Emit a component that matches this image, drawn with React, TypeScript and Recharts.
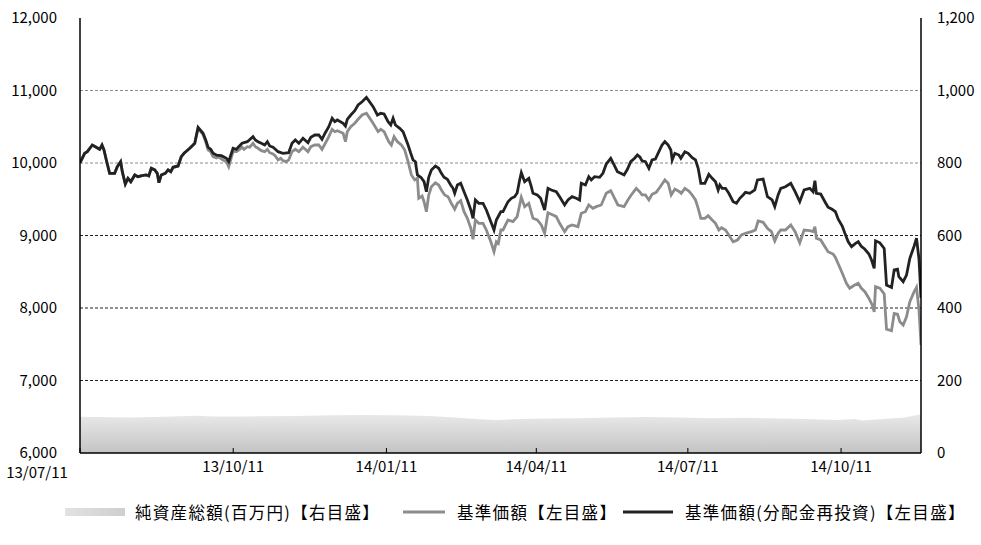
import React from 'react';
import { ComposedChart, Line, Area, XAxis, YAxis, ReferenceLine } from 'recharts';

// x values are days elapsed since 2013/07/11
const tickDays = [0, 92, 184, 274, 365, 457];
const tickLabels = ['13/07/11', '13/10/11', '14/01/11', '14/04/11', '14/07/11', '14/10/11'];
const leftTicks = [6000, 7000, 8000, 9000, 10000, 11000, 12000];
const rightTicks = [0, 200, 400, 600, 800, 1000, 1200];
const gridUpper = [10000, 11000];
const gridLower = [7000, 8000, 9000];

// 純資産総額(百万円)
const assetDays = [0, 10, 30, 50, 70, 80, 100, 130, 150, 170, 190, 210, 225, 240, 250, 260, 280, 300, 320, 340, 360, 380, 400, 420, 440, 455, 465, 470, 480, 495, 505];
const assetValues = [100, 99, 98, 100, 103, 101, 101, 102, 104, 105, 104, 102, 98, 93, 91, 93, 95, 96, 98, 99, 98, 96, 97, 95, 93, 91, 94, 90, 93, 98, 107];

// 基準価額(分配金再投資)
const reinvestDays = [0, 2.8, 4.4, 7.4, 9.2, 11.8, 13.2, 14.4, 15.8, 17.8, 20.8, 22.4, 24.4, 25.4, 27.2, 28.8, 30.5, 32.9, 34.8, 37.2, 39.8, 41.3, 42.8, 44.9, 46.4, 47.4, 48.8, 51.2, 52.9, 54.5, 55.9, 58.9, 60.8, 62.5, 65.9, 67.9, 68.9, 70.9, 73.9, 75.5, 76.9, 78.5, 79.9, 81.9, 84.9, 87.9, 89.3, 91.9, 93.9, 95.3, 97.3, 100.5, 103.9, 105.3, 106.9, 108.9, 110.9, 112.5, 113.9, 115.9, 117.3, 118.9, 121.9, 125.3, 127.3, 129.3, 131.4, 133.9, 136.9, 138.6, 141, 143.4, 145.3, 147.3, 149.4, 151.4, 153, 154.5, 158, 159.4, 160.5, 162.6, 165, 167, 169.4, 172, 176, 178.6, 180.6, 182.6, 185, 186.6, 188, 189.4, 192, 194, 197, 198.6, 200, 201.4, 202.6, 204.8, 206.6, 208, 209.4, 211, 213.4, 215.4, 217, 218.6, 220.6, 222.6, 224, 225, 226.6, 228.6, 230.6, 232.6, 234.7, 236, 237.4, 239.5, 242, 244, 246.7, 248.6, 250, 252.7, 254, 257, 259, 261, 262.5, 264, 265, 267, 269.5, 271, 272, 274.6, 276.6, 279, 281, 283, 286, 288, 291, 293, 295.5, 298, 300, 301, 303.5, 305.5, 307, 309, 312, 314, 316, 318.7, 320.7, 322.7, 324.7, 326.7, 328.7, 330.7, 333, 334.7, 336.3, 337.5, 339.5, 341.6, 343.5, 345.5, 347.6, 349.5, 351.2, 353.2, 354.8, 355.6, 357.2, 359.6, 360.8, 363.2, 365.2, 367.6, 369.6, 371.2, 372.8, 375.2, 377.6, 379.6, 381.6, 383.2, 384.2, 385.6, 387.6, 389.6, 392.2, 394.2, 396.2, 398.2, 399.6, 402.2, 405.2, 406.8, 410.2, 412.8, 415.6, 417.2, 419.2, 420.8, 423.6, 426.8, 429.4, 432.2, 434.8, 438.2, 440.2, 441.3, 442.2, 444.8, 447.3, 449.2, 451.6, 453.6, 455.3, 457.7, 459.3, 461.3, 463.3, 465.7, 467.3, 469, 471.3, 473.7, 475.3, 476.9, 477.7, 480.3, 482.9, 484.3, 487.3, 488.9, 490.9, 491.7, 494.3, 496.3, 498.3, 500.9, 502.3, 503.8, 505];
const reinvestValues = [10000, 10134, 10156, 10248, 10225, 10189, 10248, 10179, 10042, 9858, 9858, 9949, 10018, 9880, 9710, 9789, 9742, 9835, 9811, 9825, 9835, 9821, 9927, 9904, 9858, 9729, 9835, 9858, 9904, 9880, 9941, 9959, 10087, 10134, 10203, 10248, 10272, 10492, 10410, 10317, 10217, 10189, 10134, 10110, 10101, 10065, 10018, 10203, 10189, 10225, 10272, 10294, 10363, 10317, 10294, 10272, 10248, 10294, 10235, 10217, 10189, 10156, 10134, 10142, 10272, 10317, 10272, 10341, 10280, 10354, 10386, 10386, 10327, 10418, 10500, 10616, 10570, 10593, 10548, 10510, 10603, 10662, 10721, 10800, 10845, 10906, 10777, 10662, 10686, 10676, 10570, 10524, 10616, 10524, 10479, 10432, 10248, 10134, 10042, 10018, 9835, 9800, 9742, 9604, 9803, 9904, 9959, 9927, 9858, 9803, 9775, 9697, 9651, 9582, 9697, 9720, 9604, 9490, 9352, 9237, 9490, 9444, 9444, 9352, 9191, 9076, 9214, 9328, 9328, 9466, 9513, 9535, 9586, 9766, 9866, 9742, 9789, 9673, 9582, 9559, 9513, 9352, 9651, 9628, 9604, 9535, 9421, 9490, 9535, 9513, 9490, 9720, 9697, 9811, 9766, 9811, 9803, 9858, 9986, 10065, 9973, 9880, 9858, 9835, 9913, 10018, 10065, 10110, 10079, 10030, 10018, 9927, 10042, 10055, 10156, 10248, 10294, 10248, 10179, 10042, 10134, 10110, 10065, 10156, 10134, 10073, 10042, 9927, 9720, 9720, 9844, 9789, 9742, 9628, 9697, 9651, 9651, 9582, 9466, 9444, 9513, 9559, 9596, 9582, 9628, 9766, 9779, 9535, 9490, 9398, 9559, 9651, 9673, 9720, 9604, 9466, 9628, 9651, 9604, 9756, 9582, 9572, 9466, 9389, 9362, 9328, 9224, 9131, 9030, 8914, 8846, 8892, 8914, 8855, 8810, 8745, 8662, 8546, 8927, 8899, 8821, 8317, 8284, 8524, 8534, 8432, 8363, 8455, 8686, 8855, 8962, 8676, 8138];

// 基準価額
const navDays = [0, 2.8, 4.4, 7.4, 9.2, 11.8, 13.2, 14.4, 15.8, 17.8, 20.8, 22.4, 24.4, 25.4, 27.2, 28.8, 30.5, 32.9, 34.8, 37.2, 39.8, 41.3, 42.8, 44.9, 46.4, 47.4, 48.8, 51.2, 52.9, 54.5, 55.9, 58.9, 60.8, 62.5, 65.9, 67.9, 68.9, 70.9, 73.9, 75.5, 76.9, 78.5, 79.9, 81.9, 82.9, 85.9, 87.9, 89.3, 91.9, 93.9, 95.3, 97.3, 98.5, 100.5, 101.9, 103.9, 105.3, 106.9, 108.9, 110.9, 112.5, 113.9, 115.9, 117.3, 118.9, 120.5, 121.9, 123.9, 125.3, 127.3, 129.3, 131.4, 133.9, 135.3, 136.9, 138.6, 141, 143.4, 145.3, 147.3, 149.4, 151.4, 153, 154.5, 158, 159.4, 160.5, 162.6, 165, 167, 169.4, 172, 176, 179, 180.6, 182.6, 185.4, 187, 188.6, 190.6, 193, 195, 197, 199, 201, 202.6, 203.4, 205.4, 206.6, 208, 209.4, 211, 213.4, 215.4, 217, 219, 221, 223, 225, 226.6, 228.6, 230.6, 232.6, 234.7, 236, 237.4, 239.5, 242, 244, 246.7, 248.6, 250, 251.2, 252.7, 254, 257, 260, 262.5, 264, 265, 267, 269.5, 272, 274.6, 277, 279, 281, 284, 286, 288, 291, 293, 295.5, 299, 301, 303.5, 305.5, 308, 310, 313, 316, 318.7, 321, 323, 326.7, 329, 331, 334, 336, 337.5, 339.5, 341.6, 343.5, 346, 348, 351.2, 353.2, 355, 357.2, 360, 361, 363.2, 365.6, 367.6, 369.6, 371.2, 372.8, 375.2, 377.2, 379.6, 381.6, 383.6, 385.2, 387.6, 389.6, 392.2, 394.8, 397.2, 399.6, 403.2, 405.6, 407.2, 410.2, 412.8, 415.2, 417.2, 419.2, 420.8, 423.6, 426.8, 429.4, 432.2, 434.8, 438.2, 440.2, 441.3, 442.2, 444.8, 447.3, 449.2, 452.2, 453.6, 455.6, 458.2, 460.2, 462.2, 465.2, 467.3, 469.2, 471.3, 473.7, 475.7, 476.9, 477.7, 480.3, 482.9, 484.3, 487.3, 488.9, 490.9, 492.3, 494.3, 496.3, 498.3, 500.9, 502.3, 503.8, 505];
const navValues = [10000, 10134, 10156, 10248, 10225, 10189, 10248, 10179, 10042, 9858, 9858, 9949, 10018, 9880, 9710, 9789, 9742, 9835, 9811, 9825, 9835, 9821, 9927, 9904, 9858, 9729, 9835, 9858, 9904, 9880, 9941, 9959, 10087, 10134, 10203, 10248, 10272, 10480, 10390, 10290, 10179, 10152, 10087, 10069, 10087, 10042, 10018, 9949, 10156, 10156, 10179, 10217, 10189, 10225, 10217, 10272, 10225, 10203, 10170, 10156, 10189, 10142, 10124, 10097, 10042, 10065, 10032, 10018, 10042, 10156, 10189, 10156, 10217, 10189, 10156, 10225, 10248, 10248, 10189, 10272, 10363, 10465, 10432, 10446, 10410, 10294, 10432, 10500, 10548, 10603, 10662, 10686, 10548, 10432, 10465, 10432, 10294, 10248, 10363, 10294, 10248, 10179, 10018, 9835, 9766, 9789, 9513, 9545, 9466, 9328, 9559, 9673, 9728, 9697, 9628, 9559, 9535, 9444, 9362, 9444, 9480, 9328, 9237, 9099, 8948, 9214, 9168, 9168, 9076, 8914, 8777, 8914, 8892, 9076, 9076, 9214, 9191, 9260, 9421, 9527, 9398, 9444, 9237, 9214, 9145, 9030, 9313, 9283, 9260, 9168, 9053, 9122, 9145, 9122, 9306, 9328, 9421, 9375, 9398, 9421, 9582, 9618, 9513, 9421, 9398, 9490, 9559, 9651, 9604, 9559, 9559, 9490, 9568, 9596, 9659, 9766, 9720, 9559, 9641, 9604, 9582, 9651, 9614, 9559, 9490, 9375, 9237, 9237, 9273, 9214, 9168, 9076, 9108, 9076, 9007, 8914, 8938, 9007, 9030, 9053, 9076, 9200, 9182, 9099, 9053, 8924, 9030, 9076, 9076, 9145, 9053, 8900, 9076, 9066, 9053, 9122, 8962, 8938, 8846, 8777, 8745, 8699, 8593, 8455, 8341, 8272, 8317, 8341, 8272, 8225, 8134, 8042, 7947, 8294, 8272, 8193, 7707, 7687, 7925, 7916, 7810, 7764, 7879, 8086, 8225, 8284, 7972, 7490];

const toPoints = (days: number[], values: number[]) => days.map((d, i) => ({ d, v: values[i] }));
const assetData = toPoints(assetDays, assetValues);
const reinvestData = toPoints(reinvestDays, reinvestValues);
const navData = toPoints(navDays, navValues);

const legendItems = [
  { label: '純資産総額(百万円)【右目盛】', kind: 'area' },
  { label: '基準価額【左目盛】', kind: 'nav' },
  { label: '基準価額(分配金再投資)【左目盛】', kind: 'reinvest' },
];

const FONT = '"Noto Sans CJK JP", "Noto Sans", sans-serif';
const fmt = (n: number) => n.toLocaleString('en-US');

const XTick = (props: any) => {
  const { x, y, payload, index } = props;
  const label = tickLabels[tickDays.indexOf(payload.value)] ?? '';
  const shiftX = index === 0 ? -43 : 0;
  const shiftY = index === 0 ? 6 : 0;
  return (
    <text x={x + shiftX} y={y + shiftY} dy="0.71em" textAnchor="middle" fill="#000" fontSize={15} fontFamily={FONT}>
      {label}
    </text>
  );
};

export default function App() {
  const swatchX = [65, 403, 623];
  const textX = [135, 457, 685];
  return (
    <div style={{ position: 'absolute', left: 0, top: 0, width: 981, height: 545, background: '#fff', fontFamily: FONT }}>
      <ComposedChart width={981} height={545} margin={{ top: 18, right: 0, bottom: 62, left: 0 }}>
        <defs>
          <linearGradient id="assetGrad" x1="0" y1="0" x2="0" y2="1">
            <stop offset="0%" stopColor="#e9e9e9" />
            <stop offset="100%" stopColor="#c4c4c4" />
          </linearGradient>
          <linearGradient id="legendGrad" x1="0" y1="0" x2="1" y2="0">
            <stop offset="0%" stopColor="#e2e2e2" />
            <stop offset="100%" stopColor="#cfcfcf" />
          </linearGradient>
        </defs>
        <XAxis
          xAxisId="x"
          dataKey="d"
          type="number"
          domain={[0, 505]}
          ticks={tickDays}
          height={30}
          axisLine={{ stroke: '#000', strokeWidth: 1.5 }}
          tickLine={{ stroke: '#000' }}
          tickSize={-5}
          tickMargin={13}
          tick={<XTick />}
          interval={0}
          allowDataOverflow
        />
        <YAxis
          yAxisId="left"
          orientation="left"
          type="number"
          domain={[6000, 12000]}
          ticks={leftTicks}
          width={80}
          axisLine={{ stroke: '#000', strokeWidth: 1.5 }}
          tickLine={false}
          tickMargin={17}
          tickFormatter={fmt}
          tick={{ fill: '#000', fontSize: 15, fontFamily: FONT }}
          allowDataOverflow
        />
        <YAxis
          yAxisId="right"
          orientation="right"
          type="number"
          domain={[0, 1200]}
          ticks={rightTicks}
          width={60}
          axisLine={{ stroke: '#000', strokeWidth: 1.5 }}
          tickLine={false}
          tickMargin={10}
          tickFormatter={fmt}
          tick={{ fill: '#000', fontSize: 15, fontFamily: FONT }}
          allowDataOverflow
        />
        {gridUpper.map((g) => (
          <ReferenceLine key={g} xAxisId="x" yAxisId="left" y={g} stroke="#8a8a8a" strokeDasharray="3 2" />
        ))}
        {gridLower.map((g) => (
          <ReferenceLine key={g} xAxisId="x" yAxisId="left" y={g} stroke="#222" strokeDasharray="3 2" />
        ))}
        <Area
          xAxisId="x"
          yAxisId="right"
          data={assetData}
          dataKey="v"
          type="linear"
          stroke="none"
          fill="url(#assetGrad)"
          fillOpacity={1}
          isAnimationActive={false}
          dot={false}
          activeDot={false}
        />
        <Line
          xAxisId="x"
          yAxisId="left"
          data={navData}
          dataKey="v"
          type="linear"
          stroke="#8c8c8c"
          strokeWidth={2.8}
          dot={false}
          activeDot={false}
          isAnimationActive={false}
        />
        <Line
          xAxisId="x"
          yAxisId="left"
          data={reinvestData}
          dataKey="v"
          type="linear"
          stroke="#222"
          strokeWidth={2.8}
          dot={false}
          activeDot={false}
          isAnimationActive={false}
        />
      </ComposedChart>
      {legendItems.map((item, i) => (
        <React.Fragment key={item.label}>
          <svg style={{ position: 'absolute', left: swatchX[i], top: 505 }} width={62} height={14}>
            {item.kind === 'area' ? (
              <rect x={0} y={3} width={60} height={8} fill="url(#legendGrad)" />
            ) : (
              <line x1={0} x2={item.kind === 'nav' ? 42 : 50} y1={7} y2={7} stroke={item.kind === 'nav' ? '#8c8c8c' : '#222'} strokeWidth={3} />
            )}
          </svg>
          <div style={{ position: 'absolute', left: textX[i], top: 501, fontSize: 16.5, letterSpacing: 1.3, lineHeight: '22px', color: '#000', whiteSpace: 'nowrap' }}>
            {item.label}
          </div>
        </React.Fragment>
      ))}
    </div>
  );
}
